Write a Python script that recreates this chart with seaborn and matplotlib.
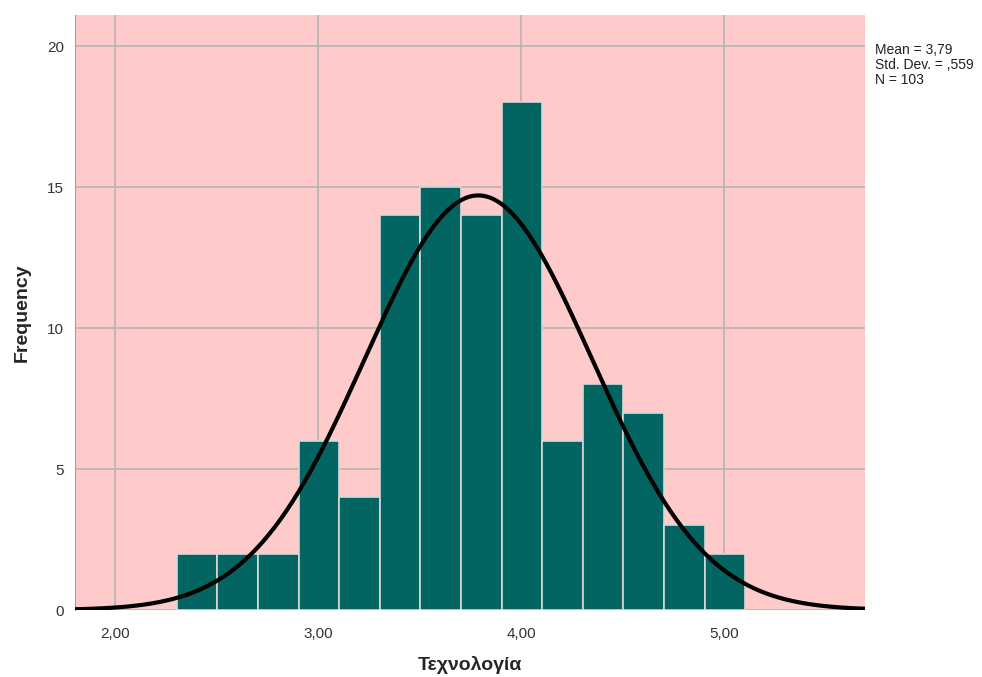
import numpy as np
import pandas as pd
import matplotlib
matplotlib.use("Agg")
import matplotlib.pyplot as plt
import seaborn as sns

# Data
bin_edges = [2.305, 2.505, 2.705, 2.905, 3.105, 3.305, 3.505, 3.705, 3.905,
             4.105, 4.305, 4.505, 4.705, 4.905, 5.105]
counts = [2, 2, 2, 6, 4, 14, 15, 14, 18, 6, 8, 7, 3, 2]
mean_val = 3.79
std_val = 0.559
n_val = 103
x_ticks = [2.0, 3.0, 4.0, 5.0]
x_tick_labels = ["2,00", "3,00", "4,00", "5,00"]
y_ticks = [0, 5, 10, 15, 20]

sns.set_style("white")
plt.rcParams['font.family'] = ['Liberation Sans', 'DejaVu Sans']

fig = plt.figure(figsize=(9.82, 6.77), dpi=100)
ax = fig.add_axes([75/982, 1-610/677, (865-75)/982, (610-15)/677])
ax.set_facecolor("#FFCACA")

centers = [(a + b) / 2 for a, b in zip(bin_edges[:-1], bin_edges[1:])]
df = pd.DataFrame({"x": centers, "w": counts})
sns.histplot(data=df, x="x", weights="w", bins=bin_edges, ax=ax,
             color="#036562", alpha=1.0, edgecolor="#D8D8D8", linewidth=1.2,
             zorder=2)

# fitted normal curve (from reported mean / sd / N)
bw = bin_edges[1] - bin_edges[0]
xs = np.linspace(1.803, 5.695, 400)
ys = n_val * bw / (std_val * np.sqrt(2 * np.pi)) * np.exp(-0.5 * ((xs - mean_val) / std_val) ** 2)
sns.lineplot(x=xs, y=ys, ax=ax, color="black", linewidth=3, zorder=3)

ax.set_xlim(1.803, 5.695)
ax.set_ylim(0, 21.1)
ax.set_xticks(x_ticks)
ax.set_xticklabels(x_tick_labels)
ax.set_yticks(y_ticks)
ax.grid(True, color="#B4B4B4", linewidth=1.2, zorder=0)
ax.set_axisbelow(True)
ax.tick_params(axis="both", length=0, labelsize=11, colors="#333333")
ax.tick_params(axis="x", pad=12)
ax.tick_params(axis="y", pad=8)
for s in ["top", "right", "bottom"]:
    ax.spines[s].set_visible(False)
ax.spines["left"].set_color("#A0A0A0")

ax.set_xlabel("Τεχνολογία", fontsize=14, fontweight="bold")
ax.set_ylabel("Frequency", fontsize=14, fontweight="bold")
ax.xaxis.set_label_coords(0.5, -(665 - 610) / (610 - 15), transform=ax.transAxes)
ax.xaxis.label.set_va("center")
ax.yaxis.set_label_coords(-(75 - 22) / (865 - 75), 0.5, transform=ax.transAxes)
ax.yaxis.label.set_va("center")

fig.text(875/982, 1-43/677, "Mean = 3,79\nStd. Dev. = ,559\nN = 103",
         fontsize=10, va="top", ha="left", linespacing=1.1, color="#222222")

fig.savefig("out.png", dpi=100)
